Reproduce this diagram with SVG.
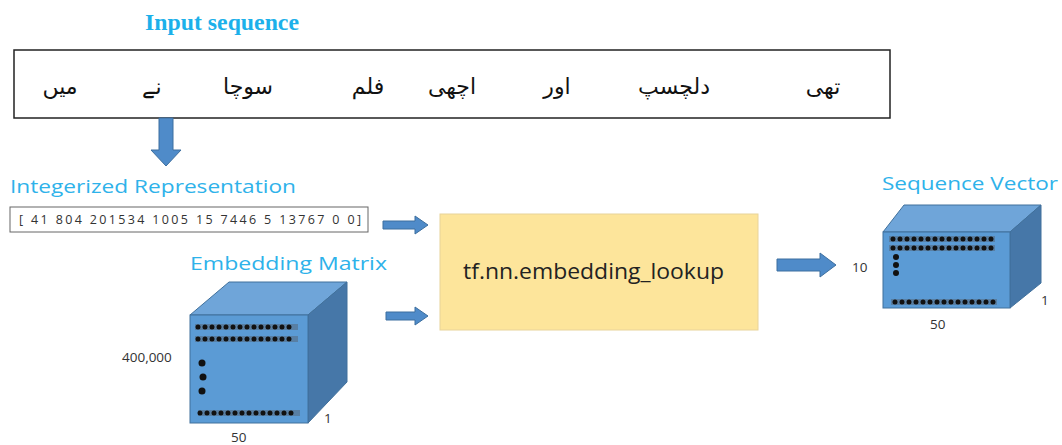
<svg xmlns="http://www.w3.org/2000/svg" width="1062" height="445" viewBox="0 0 1062 445">
<style>
.title{font-family:"Liberation Serif",serif;font-weight:bold;font-size:23px;fill:#1cb0ea}
.lbl{font-family:"Open Sans","Liberation Sans",sans-serif;font-size:18.5px;fill:#2eb2ea}
.urdu{font-family:"DejaVu Sans","Noto Sans",sans-serif;font-size:22px;fill:#111}
.num{font-family:"Open Sans","Liberation Sans",sans-serif;font-size:12.5px;fill:#333}
.dim{font-family:"Open Sans","Liberation Sans",sans-serif;font-size:13.5px;fill:#333}
.front{fill:#5b9bd5;stroke:#41719c;stroke-width:1}
.top{fill:#6fa5d9;stroke:#41719c;stroke-width:1}
.side{fill:#4677a8;stroke:#41719c;stroke-width:1}
.strip{stroke:#555e6a;stroke-width:6;opacity:0.45}
.dots{stroke:#111;stroke-width:5;stroke-linecap:round;stroke-dasharray:0 7}
.arrow{fill:#4f8bc9;stroke:#3d6f9f;stroke-width:1}
</style>
<rect width="1062" height="445" fill="#fff"/>

<g id="input-sequence">
<text class="title" x="145" y="30" textLength="154" lengthAdjust="spacingAndGlyphs">Input sequence</text>
<rect x="14" y="50" width="876" height="68" fill="#fff" stroke="#222" stroke-width="1.5"/>
<text class="urdu" x="60" y="94" text-anchor="middle">میں</text>
<text class="urdu" x="152" y="94" text-anchor="middle">نے</text>
<text class="urdu" x="248" y="94" text-anchor="middle">سوچا</text>
<text class="urdu" x="368" y="94" text-anchor="middle">فلم</text>
<text class="urdu" x="452" y="94" text-anchor="middle">اچھی</text>
<text class="urdu" x="557" y="94" text-anchor="middle">اور</text>
<text class="urdu" x="674" y="94" text-anchor="middle">دلچسپ</text>
<text class="urdu" x="823" y="94" text-anchor="middle">تھی</text>
</g>

<g id="integerized">
<text class="lbl" x="10" y="193" textLength="286" lengthAdjust="spacingAndGlyphs">Integerized Representation</text>
<rect x="10" y="207" width="358" height="25" fill="#fff" stroke="#666" stroke-width="1"/>
<text class="num" x="19" y="224" textLength="342" lengthAdjust="spacing">[ 41  804  201534  1005  15  7446  5  13767  0  0]</text>
</g>

<g id="embedding-matrix">
<text class="lbl" x="190" y="270" textLength="197" lengthAdjust="spacingAndGlyphs">Embedding Matrix</text>
<polygon class="top" points="190,315 229,282 347,282 308,315"/>
<polygon class="side" points="308,315 347,282 347,382 308,423"/>
<rect class="front" x="190" y="315" width="118" height="108"/>
<line class="strip" x1="195" y1="327" x2="298" y2="327"/>
<line class="strip" x1="195" y1="339" x2="298" y2="339"/>
<line class="strip" x1="198" y1="413" x2="300" y2="413"/>
<line class="dots" x1="198" y1="327" x2="296" y2="327"/>
<line class="dots" x1="198" y1="339" x2="296" y2="339"/>
<line class="dots" x1="200" y1="413" x2="298" y2="413"/>
<circle cx="202" cy="363" r="3.5" fill="#111"/>
<circle cx="203" cy="377" r="3.5" fill="#111"/>
<circle cx="202" cy="391" r="3.5" fill="#111"/>
<text class="dim" x="122" y="362">400,000</text>
<text class="dim" x="324" y="423">1</text>
<text class="dim" x="231" y="442">50</text>
</g>

<g id="embedding-lookup">
<rect x="440" y="214" width="318" height="116" fill="#fde59b" stroke="#e8d39a" stroke-width="1"/>
<text x="463" y="279" textLength="261" lengthAdjust="spacingAndGlyphs" font-family="Open Sans, Liberation Sans, sans-serif" font-size="21" fill="#222">tf.nn.embedding_lookup</text>
</g>

<g id="sequence-vector">
<text class="lbl" x="882" y="190" textLength="176" lengthAdjust="spacingAndGlyphs">Sequence Vector</text>
<polygon class="top" points="883,232 904,205 1041,205 1010,232"/>
<polygon class="side" points="1010,232 1041,205 1041,283 1010,308"/>
<rect class="front" x="883" y="232" width="127" height="76"/>
<line class="strip" x1="889" y1="239" x2="995" y2="239"/>
<line class="strip" x1="889" y1="248" x2="995" y2="248"/>
<line class="strip" x1="891" y1="302" x2="997" y2="302"/>
<line class="dots" x1="893" y1="239" x2="992" y2="239"/>
<line class="dots" x1="893" y1="248" x2="992" y2="248"/>
<line class="dots" x1="895" y1="302" x2="994" y2="302"/>
<circle cx="896" cy="257" r="3" fill="#111"/>
<circle cx="896" cy="265" r="3" fill="#111"/>
<circle cx="896" cy="273" r="3" fill="#111"/>
<text class="dim" x="852" y="272">10</text>
<text class="dim" x="1041" y="305">1</text>
<text class="dim" x="930" y="329">50</text>
</g>

<g id="connectors">
<path class="arrow" d="M159,118 H173 V150 H181 L166,166 L151,150 H159 Z"/>
<path class="arrow" d="M383,221 H415 V216 L428,225 L415,234 V229 H383 Z"/>
<path class="arrow" d="M386,312 H415 V307 L428,316 L415,325 V320 H386 Z"/>
<path class="arrow" d="M777,259 H820 V253 L836,265 L820,277 V271 H777 Z"/>
</g>
</svg>
